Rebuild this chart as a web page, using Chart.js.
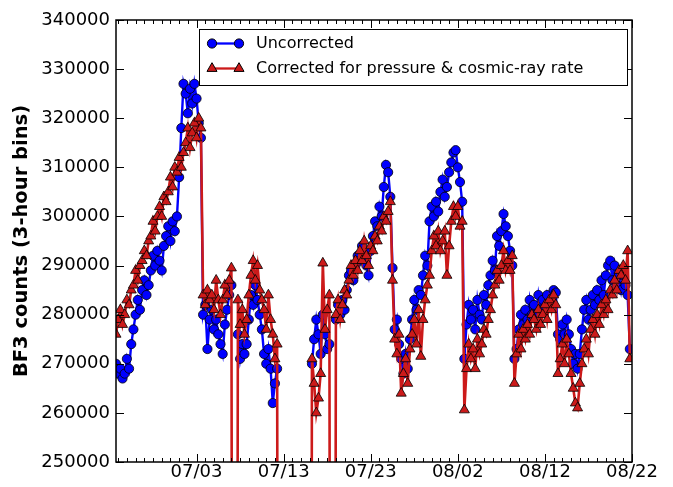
<!DOCTYPE html>
<html>
<head>
<meta charset="utf-8">
<script src="https://cdn.jsdelivr.net/npm/chart.js@4.4.1/dist/chart.umd.min.js"></script>
<style>
  html, body { margin: 0; padding: 0; background: #fff; }
  canvas { display: block; }
</style>
</head>
<body>
<canvas id="bf3Chart" width="673" height="487"></canvas>
<script>
// x = days relative to 07/03 00:00, one sample every 6 h
const firstDay = -9.25;
const stepDays = 0.25;
const axisEnd = 50;
const tickDays = [0, 10, 20, 30, 40, 50];
const tickLabels = ['07/03', '07/13', '07/23', '08/02', '08/12', '08/22'];
const seriesNames = ['Uncorrected', 'Corrected for pressure & cosmic-ray rate'];

// counts in thousands, one row per day (4 samples); null = no data, 0 = dropout of corrected rate
const uncorrected = [
  270, 268, 269, 267,
  268, 271, 269, 274,
  277, 280, 283, 281,
  285, 287, 284, 286,
  289, 292, 290, 293,
  291, 289, 294, 296,
  298, 295, 299, 297,
  300, 308, 318, 327,
  325, 321, 326, 323,
  327, 324, 319, 316,
  280, 282, 273, 279,
  281, 277, 279, 276,
  274, 272, 278, 281,
  284, 286, null, null,
  276, 271, 274, 272,
  274, 279, 284, 282,
  286, 283, 280, 277,
  272, 270, 273, 269,
  262, 266, 269, null,
  null, null, null, null,
  null, null, null, null,
  null, null, null, null,
  null, null, 270, 275,
  279, 276, 272, 280,
  276, 273, 274, null,
  null, 279, 282, 280,
  283, 281, 285, 288,
  289, 287, 290, 292,
  291, 294, 292, 290,
  288, 293, 296, 299,
  298, 302, 300, 306,
  310.5, 309, 304, 289.5,
  277, 279, 274, 271,
  268, 272, 269, 275,
  279, 283, 281, 285,
  284, 288, 292, 290,
  299, 302, 300, 303,
  301, 305, 307.5, 304,
  306, 309, 311, 313,
  313.5, 310, 307, 303,
  271, 278, 282, 279,
  281, 277, 283, 280,
  279, 284, 282, 286,
  288, 291, 289, 296,
  294, 297, 300.5, 298,
  296, 293, 290, 271,
  273, 277, 280, 278,
  281, 279, 283, 280,
  282, 280, 284, 281,
  283, 281, 284, 282,
  283, 285, 284.5, 276,
  275, 278, 276, 279,
  276, 273, 270, 272,
  269, 272, 277, 281,
  283, 279, 281, 284,
  282, 285, 283, 287,
  284, 288, 290, 291,
  287, 290, 286, 288,
  285, 288, 286, 284,
  273
];
const corrected = [
  276, 279, 281, 278,
  280, 283, 282, 285,
  286, 289, 287, 290,
  291, 293, 292, 295,
  296, 299, 297, 300,
  302, 300, 304, 303,
  305, 308, 306, 310,
  309, 312, 310, 313,
  315, 318, 314, 317,
  319, 316, 320, 318,
  284, 282, 285, 283,
  284, 281, 287, 283,
  280, 283, 286, 284,
  287, 289.5, 0, 0,
  283, 278, 281, 276,
  279, 284, 288, 291,
  287, 290, 285, 283,
  281, 277, 284, 279,
  276, 271, 274, 0,
  null, null, null, null,
  null, null, null, null,
  null, null, null, null,
  null, 0, 271, 266,
  260, 263, 268, 290.5,
  277, 281, 284, 0,
  0, 280, 283, 279,
  282, 285, 284, 287,
  290, 288, 291, 289,
  293, 291, 295, 292,
  290, 294, 293, 296,
  295, 298, 297, 300,
  299, 301, 303, 287,
  275, 272, 276, 264,
  268, 271, 266, 273,
  276, 279, 274, 281,
  271.5, 279, 283, 286,
  288, 293, 296, 294,
  297, 293, 295, 297,
  288, 294, 299, 302,
  300, 302, 298, 299,
  260.6, 269, 274, 271,
  273, 269, 275, 272,
  274, 277, 276, 279,
  281, 284, 286, 289,
  287, 290, 293, 289,
  291, 289, 292, 266,
  272, 276, 273, 277,
  275, 278, 276, 280,
  279, 277, 281, 278,
  280, 282, 279, 283,
  281, 284, 282, 268,
  271, 274, 270, 275,
  272, 268, 265, 262,
  261, 266, 270, 273,
  275, 272, 277, 279,
  276, 280, 278, 282,
  280, 283, 281, 285,
  284, 287, 285, 289,
  288, 290, 287, 293,
  271
];

const BLUE = '#0000ff';
const RED = '#cc1a1a';
const FONT = 'DejaVu Sans';

const toPoints = arr => arr.map((v, i) => ({ x: firstDay + i * stepDays, y: v === null ? null : v * 1000 }));

// matplotlib-ish frame with inward ticks on all four sides
const frameTicks = {
  id: 'frameTicks',
  afterDraw(chart) {
    const { ctx, chartArea: a, scales: { x, y } } = chart;
    ctx.save();
    ctx.strokeStyle = '#000';
    ctx.lineWidth = 1;
    ctx.beginPath();
    for (let d = Math.ceil(x.min); d <= x.max; d++) {
      const px = Math.round(x.getPixelForValue(d)) + 0.5;
      const len = tickDays.includes(d) ? 8 : 4;
      ctx.moveTo(px, a.bottom); ctx.lineTo(px, a.bottom - len);
      ctx.moveTo(px, a.top); ctx.lineTo(px, a.top + len);
    }
    y.ticks.forEach(t => {
      const py = Math.round(y.getPixelForValue(t.value)) + 0.5;
      ctx.moveTo(a.left, py); ctx.lineTo(a.left + 8, py);
      ctx.moveTo(a.right, py); ctx.lineTo(a.right - 8, py);
    });
    ctx.stroke();
    ctx.lineWidth = 1.5;
    ctx.strokeRect(a.left, a.top, a.right - a.left, a.bottom - a.top);
    ctx.restore();
  }
};

function drawMarker(ctx, style, x, y, r, fill) {
  ctx.beginPath();
  if (style === 'circle') {
    ctx.arc(x, y, r, 0, Math.PI * 2);
  } else {
    for (let k = 0; k < 3; k++) {
      const ang = k * 2 * Math.PI / 3;
      const px = x + Math.sin(ang) * r, py = y - Math.cos(ang) * r;
      k ? ctx.lineTo(px, py) : ctx.moveTo(px, py);
    }
    ctx.closePath();
  }
  ctx.fillStyle = fill;
  ctx.fill();
  ctx.lineWidth = 1;
  ctx.strokeStyle = '#000';
  ctx.stroke();
}

// legend box inside the axes, upper right
const boxLegend = {
  id: 'boxLegend',
  afterDraw(chart) {
    const { ctx } = chart;
    const bx = 199.5, by = 29.5, bw = 428, bh = 56;
    ctx.save();
    ctx.fillStyle = '#fff';
    ctx.fillRect(bx, by, bw, bh);
    ctx.strokeStyle = '#000';
    ctx.lineWidth = 1;
    ctx.strokeRect(bx, by, bw, bh);
    const rows = [
      { y: 43.5, color: BLUE, style: 'circle', r: 4.6 },
      { y: 68.5, color: RED, style: 'triangle', r: 5.8 }
    ];
    rows.forEach((row, i) => {
      ctx.strokeStyle = row.color;
      ctx.lineWidth = 2.3;
      ctx.beginPath();
      ctx.moveTo(212, row.y); ctx.lineTo(239, row.y);
      ctx.stroke();
      drawMarker(ctx, row.style, 212, row.y, row.r, row.color);
      drawMarker(ctx, row.style, 239, row.y, row.r, row.color);
      ctx.fillStyle = '#000';
      ctx.font = `16px "${FONT}"`;
      ctx.textBaseline = 'middle';
      ctx.fillText(seriesNames[i], 256, row.y);
    });
    ctx.restore();
  }
};

new Chart(document.getElementById('bf3Chart'), {
  type: 'line',
  data: {
    datasets: [
      {
        label: seriesNames[0], data: toPoints(uncorrected), order: 1,
        borderColor: BLUE, borderWidth: 2.4, tension: 0,
        pointStyle: 'circle', pointRadius: 4.6, pointBackgroundColor: BLUE,
        pointBorderColor: '#000', pointBorderWidth: 0.8
      },
      {
        label: seriesNames[1], data: toPoints(corrected), order: 0,
        borderColor: RED, borderWidth: 2.6, tension: 0,
        pointStyle: 'triangle', pointRadius: 5.8, pointBackgroundColor: RED,
        pointBorderColor: '#000', pointBorderWidth: 0.8
      }
    ]
  },
  options: {
    responsive: false,
    animation: false,
    events: [],
    layout: { padding: { left: 0, right: 41, top: 20, bottom: 0 } },
    plugins: { legend: { display: false }, tooltip: { enabled: false } },
    scales: {
      x: {
        type: 'linear', min: firstDay, max: axisEnd,
        grid: { display: false, drawTicks: false }, border: { display: false },
        afterBuildTicks: s => { s.ticks = tickDays.map(v => ({ value: v })); },
        afterFit: s => { s.height = 25; },
        ticks: {
          autoSkip: false, maxRotation: 0, padding: 0, color: '#000',
          font: { family: FONT, size: 18 },
          callback: (v, i) => tickLabels[i]
        }
      },
      y: {
        type: 'linear', min: 250000, max: 340000,
        grid: { display: false, drawTicks: false }, border: { display: false },
        afterFit: s => { s.width = 116; },
        ticks: {
          stepSize: 10000, padding: 6, color: '#000',
          font: { family: FONT, size: 18 },
          callback: v => String(v)
        },
        title: {
          display: true, text: 'BF3 counts (3-hour bins)', color: '#000',
          font: { family: FONT, size: 19.5, weight: 'bold' },
          padding: { top: 10, bottom: 0 }
        }
      }
    }
  },
  plugins: [frameTicks, boxLegend]
});
</script>
</body>
</html>
